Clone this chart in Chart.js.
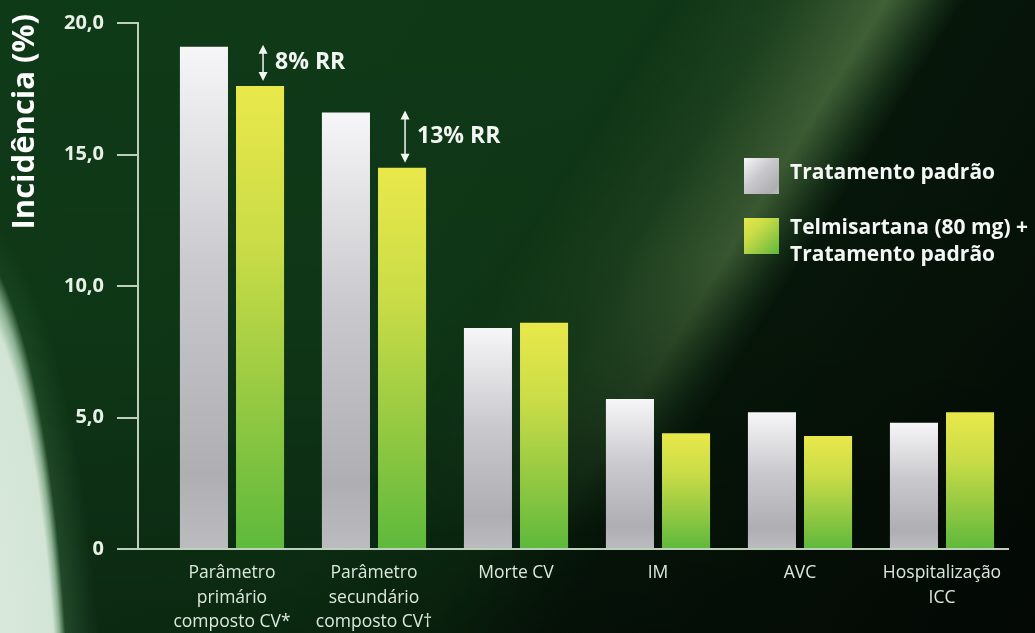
<!DOCTYPE html>
<html lang="pt">
<head>
<meta charset="utf-8">
<title>Incidência (%)</title>
<script src="https://cdn.jsdelivr.net/npm/chart.js@4/dist/chart.umd.min.js"></script>
<style>
  html, body { margin: 0; padding: 0; overflow: hidden; }
  body {
    position: relative;
    width: 1035px; height: 633px;
    background:
      linear-gradient(to bottom, rgba(0,0,0,0) 0%, rgba(0,0,0,0.04) 50%, rgba(0,0,0,0.28) 100%),
      linear-gradient(122deg, #0f3a18 0%, #0f3817 45%, #0c2d12 57%, #07170a 66%, #040b05 100%);
  }
  #raio, #brilho, #grafico { position: absolute; left: 0; top: 0; width: 1035px; height: 633px; }
  #raio {
    background: linear-gradient(122deg, rgba(70,110,60,0) 47%, rgba(70,110,60,0.3) 55%, rgba(88,124,72,0.7) 62%, rgba(50,90,50,0.35) 65.5%, rgba(20,40,20,0) 67.5%);
    -webkit-mask-image: linear-gradient(to bottom, #000 0%, rgba(0,0,0,0.85) 40%, rgba(0,0,0,0) 85%);
    mask-image: linear-gradient(to bottom, #000 0%, rgba(0,0,0,0.85) 40%, rgba(0,0,0,0) 85%);
  }
  #brilho {
    background:
      radial-gradient(ellipse 115px 560px at -45px 790px, rgba(224,238,226,1) 0%, rgba(216,234,219,0.97) 90%, rgba(175,212,182,0.75) 95%, rgba(130,185,140,0) 100%),
      radial-gradient(ellipse 150px 600px at -45px 800px, rgba(110,170,120,0.4) 0%, rgba(100,160,110,0.3) 75%, rgba(80,140,90,0) 100%);
  }
  canvas { display: block; }
</style>
</head>
<body>
<div id="raio"></div>
<div id="brilho"></div>
<canvas id="grafico" width="1035" height="633"></canvas>
<script>
// categorias e valores (incidência em %)
const categorias = [
  ['Parâmetro', 'primário', 'composto CV*'],
  ['Parâmetro', 'secundário', 'composto CV†'],
  'Morte CV',
  'IM',
  'AVC',
  ['Hospitalização', 'ICC']
];
const tratamentoPadrao = [19.1, 16.6, 8.4, 5.7, 5.2, 4.8];
const telmisartana = [17.6, 14.5, 8.6, 4.4, 4.3, 5.2];
const legendaLinhas = [['Tratamento padrão'], ['Telmisartana (80 mg) +', 'Tratamento padrão']];
const yTicks = [0, 5, 10, 15, 20];
// reduções de risco relativo marcadas com seta
const rrIndices = [0, 1];
const rrTextos = ['8% RR', '13% RR'];

const FONTE = '"Open Sans", "Noto Sans", sans-serif';
const stopsCinza = [[0, '#f6f6f8'], [0.45, '#c9c9cd'], [0.85, '#aeaeb3'], [1, '#bcbcc0']];
const stopsVerde = [[0, '#e9e84a'], [0.35, '#c9dc47'], [0.7, '#92c842'], [1, '#5eb93c']];

function gradienteBarra(stops) {
  return function(c) {
    const chart = c.chart;
    if (!chart.chartArea || c.type !== 'data') return stops[1][1];
    const y = chart.scales.y;
    const topo = y.getPixelForValue(c.raw);
    const base = y.getPixelForValue(0);
    const g = chart.ctx.createLinearGradient(0, topo, 0, base);
    stops.forEach(s => g.addColorStop(s[0], s[1]));
    return g;
  };
}

// eixos, seta de RR, legenda e título do eixo
const moldura = {
  id: 'moldura',
  afterDatasetsDraw(chart) {
    const ctx = chart.ctx;
    const y = chart.scales.y;
    const x0 = 138, base = y.getPixelForValue(0);
    ctx.save();
    ctx.strokeStyle = '#bcd0bc';
    ctx.lineWidth = 2;
    ctx.beginPath();
    yTicks.forEach(v => {
      const py = Math.round(y.getPixelForValue(v));
      ctx.moveTo(117, py);
      ctx.lineTo(x0, py);
    });
    ctx.moveTo(x0, Math.round(y.getPixelForValue(20)) - 1);
    ctx.lineTo(x0, base);
    ctx.lineTo(1009, base);
    ctx.stroke();

    // setas de redução de risco
    const m0 = chart.getDatasetMeta(0), m1 = chart.getDatasetMeta(1);
    ctx.strokeStyle = '#f2f6f2';
    ctx.fillStyle = '#f2f6f2';
    ctx.lineWidth = 1.5;
    rrIndices.forEach((i, k) => {
      const ax = m1.data[i].x + 3;
      const yTop = m0.data[i].y - 2;
      const yBot = m1.data[i].y - 5;
      ctx.beginPath();
      ctx.moveTo(ax, yTop + 6);
      ctx.lineTo(ax, yBot - 6);
      ctx.stroke();
      ctx.beginPath();
      ctx.moveTo(ax, yTop); ctx.lineTo(ax - 4.5, yTop + 9); ctx.lineTo(ax + 4.5, yTop + 9); ctx.closePath();
      ctx.moveTo(ax, yBot); ctx.lineTo(ax - 4.5, yBot - 9); ctx.lineTo(ax + 4.5, yBot - 9); ctx.closePath();
      ctx.fill();
      ctx.font = 'bold 23px ' + FONTE;
      ctx.textAlign = 'left';
      ctx.textBaseline = 'middle';
      ctx.fillText(rrTextos[k], ax + 12, (yTop + yBot) / 2);
    });

    // legenda
    const caixas = [[744, 158], [744, 218]];
    [stopsCinza, stopsVerde].forEach((stops, k) => {
      const [bx, by] = caixas[k];
      const g = ctx.createLinearGradient(bx, by, bx + 35, by + 36);
      stops.forEach(s => g.addColorStop(s[0], s[1]));
      ctx.fillStyle = g;
      ctx.fillRect(bx, by, 35, 36);
      ctx.fillStyle = '#f4f7f4';
      ctx.font = 'bold 21px ' + FONTE;
      ctx.textAlign = 'left';
      ctx.textBaseline = 'middle';
      const linhas = legendaLinhas[k];
      const y1 = linhas.length === 1 ? by + 15 : by + 10;
      linhas.forEach((t, j) => ctx.fillText(t, 790, y1 + j * 27));
    });

    // título do eixo y
    ctx.translate(25, 14);
    ctx.rotate(-Math.PI / 2);
    ctx.fillStyle = '#ffffff';
    ctx.font = 'bold 31px ' + FONTE;
    ctx.textAlign = 'right';
    ctx.textBaseline = 'middle';
    ctx.fillText('Incidência (%)', 0, 0);
    ctx.restore();
  }
};

new Chart(document.getElementById('grafico'), {
  type: 'bar',
  data: {
    labels: categorias,
    datasets: [
      {label: legendaLinhas[0].join(' '), data: tratamentoPadrao, backgroundColor: gradienteBarra(stopsCinza)},
      {label: legendaLinhas[1].join(' '), data: telmisartana, backgroundColor: gradienteBarra(stopsVerde)}
    ]
  },
  options: {
    responsive: false,
    animation: false,
    devicePixelRatio: 1,
    categoryPercentage: 0.79,
    barPercentage: 0.857,
    layout: {autoPadding: false, padding: {top: 23, right: 22, left: 0, bottom: 0}},
    plugins: {legend: {display: false}, tooltip: {enabled: false}},
    scales: {
      x: {
        grid: {display: false, drawTicks: false},
        border: {display: false},
        ticks: {color: '#dde8dd', font: {family: FONTE, size: 17.5, lineHeight: 1.4}, padding: 12, maxRotation: 0, autoSkip: false},
        afterFit: s => { s.height = 84; }
      },
      y: {
        min: 0, max: 20,
        grid: {display: false, drawTicks: false},
        border: {display: false},
        ticks: {
          stepSize: 5,
          color: '#e8f0e8',
          font: {family: FONTE, size: 20, weight: 'bold'},
          padding: 57,
          callback: v => v === 0 ? '0' : v.toFixed(1).replace('.', ',')
        },
        afterFit: s => { s.width = 161; s.paddingTop = 0; s.paddingBottom = 0; }
      }
    }
  },
  plugins: [moldura]
});
</script>
</body>
</html>
